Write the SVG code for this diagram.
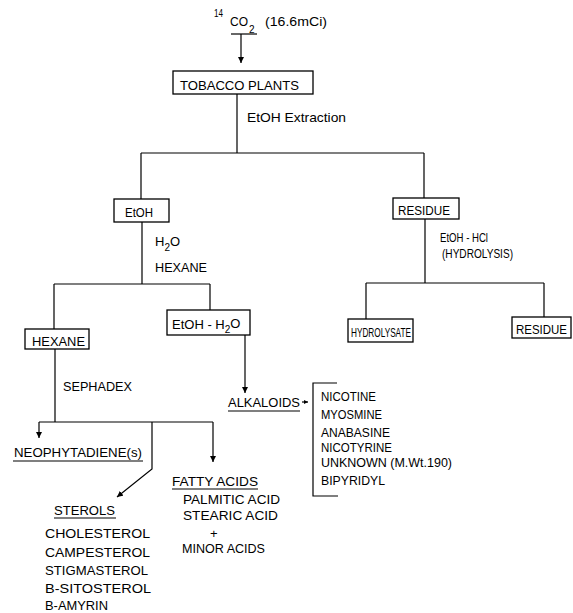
<svg xmlns="http://www.w3.org/2000/svg" width="573" height="613" viewBox="0 0 573 613">
<style>
  text { font-family: "Liberation Sans", Arial, sans-serif; font-size: 13px; fill: #000; }
  .sm { font-size: 10px; }
  .box { fill: #fff; stroke: #000; stroke-width: 1.3; }
  .ln { fill: none; stroke: #000; stroke-width: 1.2; }
  .ul { fill: none; stroke: #000; stroke-width: 1.2; }
</style>
<defs>
  <marker id="ah" markerUnits="userSpaceOnUse" markerWidth="7" markerHeight="7" refX="6" refY="3" orient="auto">
    <path d="M0,0 L6,3 L0,6 z" fill="#000"/>
  </marker>
  <marker id="ahs" markerUnits="userSpaceOnUse" markerWidth="5" markerHeight="5" refX="4" refY="2" orient="auto">
    <path d="M0,0 L4,2 L0,4 z" fill="#000"/>
  </marker>
</defs>
<rect width="573" height="613" fill="#fff"/>

<g id="connectors">
  <path class="ln" d="M241,34 V63" marker-end="url(#ah)"/>
  <path class="ln" d="M237,94 V153 M141,153 H424 M141,153 V199 M424,153 V198"/>
  <path class="ln" d="M142,222 V284 M54,284 H210 M54,284 V329 M210,284 V310"/>
  <path class="ln" d="M425,219 V283 M366,283 H544 M366,283 V319 M544,283 V317"/>
  <path class="ln" d="M245,335 V393" marker-end="url(#ah)"/>
  <path class="ln" d="M55,349 V422 M39,422 H213"/>
  <path class="ln" d="M39,422 V438" marker-end="url(#ah)"/>
  <path class="ln" d="M213,422 V462" marker-end="url(#ah)"/>
  <path class="ln" d="M152,422 V469 L117,497" marker-end="url(#ah)"/>
  <path class="ln" d="M302,402 H308" marker-end="url(#ahs)"/>
  <path class="ln" d="M337,383 H313 V496 H338"/>
</g>

<g id="co2">
  <text class="sm" x="214" y="17" textLength="9" lengthAdjust="spacingAndGlyphs">14</text>
  <text x="230" y="26" textLength="18" lengthAdjust="spacingAndGlyphs">CO</text>
  <text class="sm" x="249" y="33">2</text>
  <line class="ul" x1="231" y1="34" x2="257" y2="34"/>
  <text x="265" y="26" textLength="62" lengthAdjust="spacingAndGlyphs">(16.6mCi)</text>
</g>

<g id="tobacco">
  <rect class="box" x="173" y="71" width="140" height="23"/>
  <text x="180" y="90" textLength="119" lengthAdjust="spacingAndGlyphs">TOBACCO PLANTS</text>
</g>

<g id="label-extraction">
  <text x="247" y="122" textLength="99" lengthAdjust="spacingAndGlyphs">EtOH Extraction</text>
</g>

<g id="etoh">
  <rect class="box" x="114" y="199" width="55" height="23"/>
  <text x="125" y="217" textLength="28" lengthAdjust="spacingAndGlyphs">EtOH</text>
</g>

<g id="label-h2o-hexane">
  <text x="155" y="246">H<tspan class="sm" dy="5">2</tspan><tspan dy="-5">O</tspan></text>
  <text x="155" y="272" textLength="52" lengthAdjust="spacingAndGlyphs">HEXANE</text>
</g>

<g id="residue1">
  <rect class="box" x="393" y="198" width="66" height="21"/>
  <text x="398" y="215" textLength="52" lengthAdjust="spacingAndGlyphs">RESIDUE</text>
</g>

<g id="label-hydrolysis">
  <text x="440" y="242" textLength="48" lengthAdjust="spacingAndGlyphs">EtOH - HCl</text>
  <text x="442" y="258" textLength="71" lengthAdjust="spacingAndGlyphs">(HYDROLYSIS)</text>
</g>

<g id="hexane">
  <rect class="box" x="25" y="329" width="64" height="20"/>
  <text x="32" y="346" textLength="53" lengthAdjust="spacingAndGlyphs">HEXANE</text>
</g>

<g id="etoh-h2o">
  <rect class="box" x="167" y="310" width="83" height="25"/>
  <text x="172" y="329">EtOH - H<tspan class="sm" dy="4">2</tspan><tspan dy="-5">O</tspan></text>
</g>

<g id="hydrolysate">
  <rect class="box" x="348" y="319" width="65" height="23"/>
  <text x="351" y="337" textLength="60" lengthAdjust="spacingAndGlyphs">HYDROLYSATE</text>
</g>

<g id="residue2">
  <rect class="box" x="512" y="317" width="59" height="21"/>
  <text x="516" y="334" textLength="51" lengthAdjust="spacingAndGlyphs">RESIDUE</text>
</g>

<g id="label-sephadex">
  <text x="63" y="391" textLength="69" lengthAdjust="spacingAndGlyphs">SEPHADEX</text>
</g>

<g id="alkaloids">
  <text x="228" y="407" textLength="72" lengthAdjust="spacingAndGlyphs">ALKALOIDS</text>
  <line class="ul" x1="228" y1="411" x2="300" y2="411"/>
</g>

<g id="alkaloid-list">
  <text x="321" y="401" textLength="55" lengthAdjust="spacingAndGlyphs">NICOTINE</text>
  <text x="321" y="419" textLength="61" lengthAdjust="spacingAndGlyphs">MYOSMINE</text>
  <text x="321" y="437" textLength="69" lengthAdjust="spacingAndGlyphs">ANABASINE</text>
  <text x="321" y="452" textLength="71" lengthAdjust="spacingAndGlyphs">NICOTYRINE</text>
  <text x="321" y="467" textLength="131" lengthAdjust="spacingAndGlyphs">UNKNOWN (M.Wt.190)</text>
  <text x="321" y="485" textLength="64" lengthAdjust="spacingAndGlyphs">BIPYRIDYL</text>
</g>

<g id="neophytadiene">
  <text x="14" y="457" textLength="128" lengthAdjust="spacingAndGlyphs">NEOPHYTADIENE(s)</text>
  <line class="ul" x1="13" y1="461" x2="143" y2="461"/>
</g>

<g id="fatty-acids">
  <text x="172" y="486" textLength="86" lengthAdjust="spacingAndGlyphs">FATTY  ACIDS</text>
  <line class="ul" x1="172" y1="489" x2="258" y2="489"/>
  <text x="183" y="504" textLength="97" lengthAdjust="spacingAndGlyphs">PALMITIC ACID</text>
  <text x="183" y="520" textLength="95" lengthAdjust="spacingAndGlyphs">STEARIC ACID</text>
  <text x="210" y="538">+</text>
  <text x="182" y="553" textLength="83" lengthAdjust="spacingAndGlyphs">MINOR ACIDS</text>
</g>

<g id="sterols">
  <text x="54" y="515" textLength="61" lengthAdjust="spacingAndGlyphs">STEROLS</text>
  <line class="ul" x1="54" y1="518" x2="116" y2="518"/>
  <text x="45" y="538" textLength="105" lengthAdjust="spacingAndGlyphs">CHOLESTEROL</text>
  <text x="45" y="557" textLength="105" lengthAdjust="spacingAndGlyphs">CAMPESTEROL</text>
  <text x="45" y="575" textLength="103" lengthAdjust="spacingAndGlyphs">STIGMASTEROL</text>
  <text x="45" y="593" textLength="106" lengthAdjust="spacingAndGlyphs">B-SITOSTEROL</text>
  <text x="45" y="610" textLength="63" lengthAdjust="spacingAndGlyphs">B-AMYRIN</text>
</g>
</svg>
